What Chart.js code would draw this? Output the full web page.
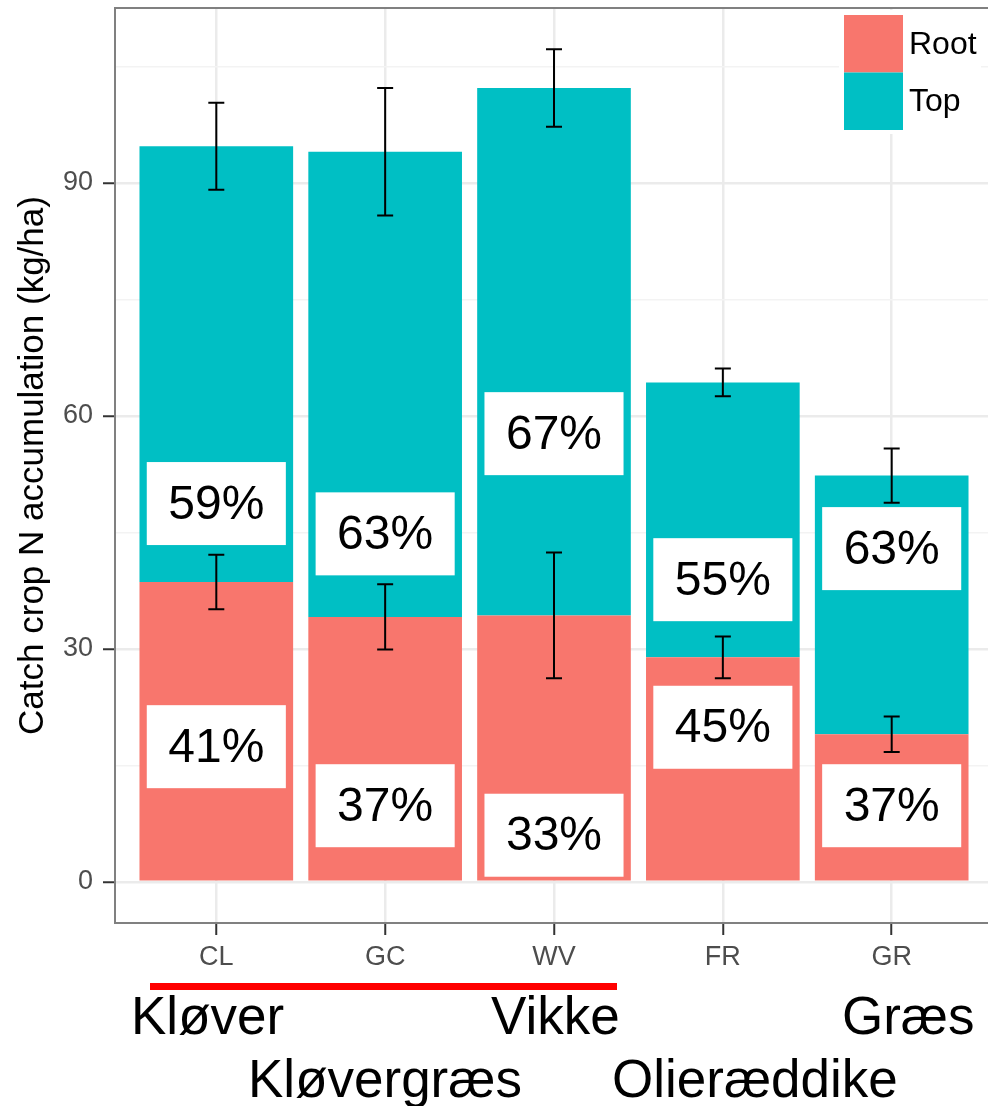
<!DOCTYPE html>
<html>
<head>
<meta charset="utf-8">
<title>Catch crop N accumulation</title>
<script src="https://cdn.jsdelivr.net/npm/chart.js@4/dist/chart.umd.min.js"></script>
<style>
  html, body { margin: 0; padding: 0; background: #fff; overflow: hidden; width: 988px; height: 1106px; }
  #wrap { position: relative; width: 988px; height: 1106px; overflow: hidden; }
  #c { position: absolute; left: 0; top: 0; }
  .name { position: absolute; font-family: 'Liberation Sans', Arial, sans-serif; font-size: 53px; line-height: 53px; color: #000; white-space: nowrap; }
  #bracket { position: absolute; left: 150px; top: 983px; width: 467px; height: 7px; background: #ff0000; }
</style>
</head>
<body>
<div id="wrap">
  <canvas id="c" width="1000" height="975"></canvas>
  <div id="bracket"></div>
  <div class="name" style="left:131px; top:989px;">Kløver</div>
  <div class="name" style="left:491px; top:989px;">Vikke</div>
  <div class="name" style="left:842px; top:989px;">Græs</div>
  <div class="name" style="left:248px; top:1052px;">Kløvergræs</div>
  <div class="name" style="left:612px; top:1052px;">Olieræddike</div>
</div>
<script>
// Catch crops and their N accumulation (kg/ha), split into root and top
const categories = ['CL', 'GC', 'WV', 'FR', 'GR'];
const rootN = [38.6, 34.1, 34.3, 28.9, 19.0];
const topN = [56.1, 59.9, 67.9, 35.4, 33.3];
// standard errors: root alone, and root + top
const rootSE = [3.5, 4.2, 8.1, 2.7, 2.3];
const totalSE = [5.6, 8.2, 5.0, 1.8, 3.5];
// share of total N in root / top, and the y value each label sits at
const rootShare = ['41%', '37%', '33%', '45%', '37%'];
const topShare = ['59%', '63%', '67%', '55%', '63%'];
const rootShareY = [17.4, 9.8, 6.0, 19.9, 9.8];
const topShareY = [48.7, 44.8, 57.7, 38.9, 42.9];
const yTicks = [0, 15, 30, 45, 60, 75, 90, 105];
const seriesNames = ['Root', 'Top'];
const seriesColors = ['#F8766D', '#00BFC4'];

const FONT = "'Liberation Sans', Arial, sans-serif";
const isMajor = v => v % 30 === 0;

const panelPlugin = {
  id: 'panel',
  afterDatasetsDraw(chart) {
    const { ctx, scales: { x, y } } = chart;
    ctx.save();
    // error bars
    ctx.strokeStyle = '#000';
    ctx.lineWidth = 2;
    const cap = 8;
    categories.forEach((_, i) => {
      const px = x.getPixelForValue(i);
      [[rootN[i], rootSE[i]], [rootN[i] + topN[i], totalSE[i]]].forEach(([m, e]) => {
        const y1 = y.getPixelForValue(m - e);
        const y2 = y.getPixelForValue(m + e);
        ctx.beginPath();
        ctx.moveTo(px, y1); ctx.lineTo(px, y2);
        ctx.moveTo(px - cap, y1); ctx.lineTo(px + cap, y1);
        ctx.moveTo(px - cap, y2); ctx.lineTo(px + cap, y2);
        ctx.stroke();
      });
    });
    // share labels in white boxes
    ctx.font = '48px ' + FONT;
    ctx.textAlign = 'center';
    ctx.textBaseline = 'middle';
    const label = (text, px, py) => {
      const w = ctx.measureText(text).width + 43;
      const h = 83;
      ctx.fillStyle = '#fff';
      ctx.fillRect(px - w / 2, py - h / 2, w, h);
      ctx.fillStyle = '#000';
      ctx.fillText(text, px, py + 2);
    };
    categories.forEach((_, i) => {
      const px = x.getPixelForValue(i);
      label(topShare[i], px, y.getPixelForValue(topShareY[i]));
      label(rootShare[i], px, y.getPixelForValue(rootShareY[i]));
    });
    ctx.restore();
  },
  afterDraw(chart) {
    const { ctx, chartArea: a } = chart;
    ctx.save();
    // panel border
    ctx.strokeStyle = '#808080';
    ctx.lineWidth = 2;
    ctx.strokeRect(a.left, a.top, a.right - a.left, a.bottom - a.top);
    // legend inside the panel
    const lx = 844, ly = 15, kw = 59, kh = 57.5;
    ctx.fillStyle = '#fff';
    ctx.fillRect(lx - 5, ly - 5, 142, kh * 2 + 9);
    ctx.font = '32px ' + FONT;
    ctx.textAlign = 'left';
    ctx.textBaseline = 'middle';
    chart.data.datasets.forEach((ds, i) => {
      ctx.fillStyle = ds.backgroundColor;
      ctx.fillRect(lx, ly + i * kh, kw, kh);
      ctx.fillStyle = '#000';
      ctx.fillText(ds.label, lx + kw + 6, ly + i * kh + kh / 2 + 1);
    });
    ctx.restore();
  }
};

new Chart(document.getElementById('c'), {
  type: 'bar',
  data: {
    datasets: seriesNames.map((name, s) => ({
      label: name,
      data: (s === 0 ? rootN : topN).map((v, i) => ({ x: i, y: v })),
      backgroundColor: seriesColors[s],
      borderWidth: 0
    }))
  },
  options: {
    responsive: false,
    animation: false,
    devicePixelRatio: 1,
    layout: { padding: { top: 8, right: 7, bottom: 0, left: 0 } },
    datasets: { bar: { barPercentage: 0.91, categoryPercentage: 1 } },
    plugins: { legend: { display: false }, tooltip: { enabled: false } },
    scales: {
      x: {
        type: 'linear',
        stacked: true,
        offset: false,
        min: -0.6,
        max: 4.6,
        afterBuildTicks: s => { s.ticks = categories.map((_, i) => ({ value: i })); },
        afterFit: s => { s.height = 52; s.paddingLeft = 0; s.paddingRight = 0; },
        border: { display: false },
        grid: { offset: false, color: '#ebebeb', lineWidth: 2.5, tickLength: 12, tickColor: '#333', tickWidth: 2 },
        ticks: {
          callback: v => categories[v],
          autoSkip: false,
          maxRotation: 0,
          color: '#4d4d4d',
          font: { family: FONT, size: 27 },
          padding: 6
        }
      },
      y: {
        stacked: true,
        min: -5.3,
        max: 112.5,
        afterBuildTicks: s => { s.ticks = yTicks.map(v => ({ value: v })); },
        afterFit: s => { s.width = 115; s.paddingTop = 0; s.paddingBottom = 0; },
        border: { display: false },
        grid: {
          color: c => isMajor(c.tick.value) ? '#ebebeb' : '#f3f3f3',
          lineWidth: c => isMajor(c.tick.value) ? 2.5 : 1.5,
          tickColor: c => isMajor(c.tick.value) ? '#333' : 'rgba(0,0,0,0)',
          tickLength: 12,
          tickWidth: 2
        },
        ticks: {
          callback: v => isMajor(v) ? String(v) : '',
          color: '#4d4d4d',
          font: { family: FONT, size: 27 },
          padding: 10
        },
        title: {
          display: true,
          text: 'Catch crop N accumulation (kg/ha)',
          color: '#000',
          font: { family: FONT, size: 35 },
          padding: { top: 12, bottom: 0 }
        }
      }
    }
  },
  plugins: [panelPlugin]
});
</script>
</body>
</html>
